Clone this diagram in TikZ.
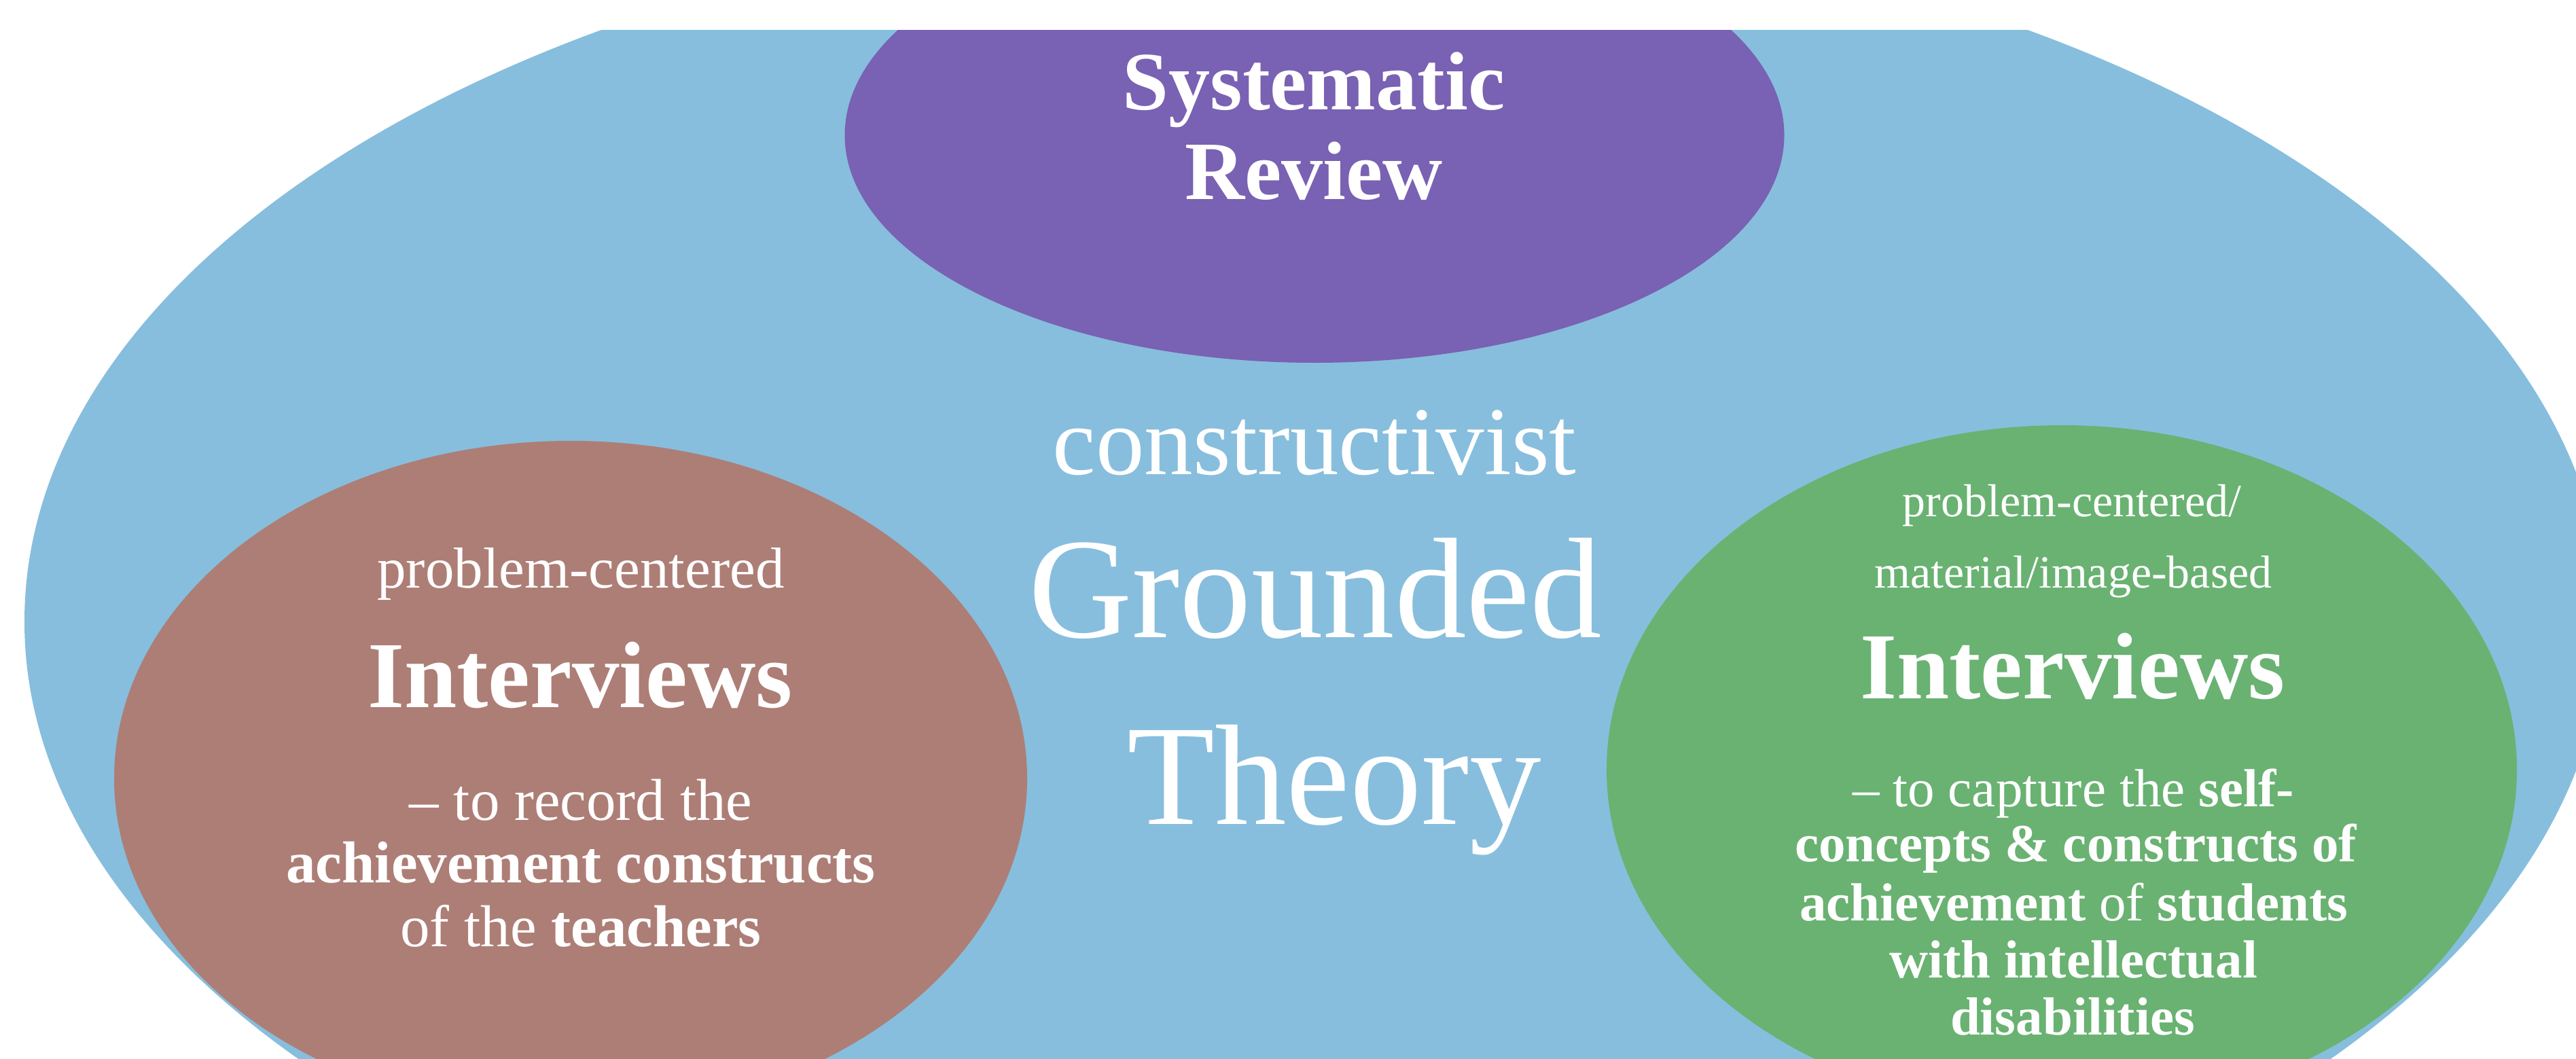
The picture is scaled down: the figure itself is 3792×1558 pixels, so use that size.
\documentclass[tikz,border=0pt]{standalone}
\usepackage{fontspec}
\setmainfont{Liberation Serif}
\usetikzlibrary{shapes.geometric}
\definecolor{bgblue}{HTML}{87BEDD}
\definecolor{revpurple}{HTML}{7961B3}
\definecolor{teachbrown}{HTML}{AD7E76}
\definecolor{studgreen}{HTML}{69B272}
\begin{document}
\begin{tikzpicture}[x=1pt,y=-1pt,
  blob/.style={ellipse, inner sep=0pt, outer sep=0pt, draw=none},
  txt/.style={text=white, inner sep=0pt, anchor=base, align=center},
  fsys/.style={font=\fontsize{122}{132}\selectfont\bfseries},
  fcon/.style={font=\fontsize{143}{150}\selectfont},
  fgt/.style={font=\fontsize{211}{275}\selectfont},
  fsmall/.style={font=\fontsize{85}{93}\selectfont},
  fbig/.style={font=\fontsize{139}{150}\selectfont\bfseries},
  fbody/.style={font=\fontsize{87}{93}\selectfont},
  fgsmall/.style={font=\fontsize{68}{80}\selectfont},
  fgbody/.style={font=\fontsize{79}{84}\selectfont}]
\fill[white] (0,0) rectangle (3792,1558);
\useasboundingbox (0,0) rectangle (3792,1558);
\begin{scope}
\clip (0,44) rectangle (3792,1558);
\node[blob, fill=bgblue, minimum width=3798pt, minimum height=2090pt] (frame) at (1935,915) {};
\node[blob, fill=revpurple, minimum width=1383pt, minimum height=670pt] (review) at (1935,199) {};
\node[blob, fill=teachbrown, minimum width=1344pt, minimum height=994pt] (teachers) at (840,1146) {};
\node[blob, fill=studgreen, minimum width=1340pt, minimum height=1014pt] (students) at (3035,1133) {};
\end{scope}
% Systematic Review
\node[txt, fsys] (sys1) at (1934,161) {Systematic};
\node[txt, fsys] (sys2) at (1934,293) {Review};
% centre
\node[txt, fcon] (cons) at (1935,698) {constructivist};
\node[txt, fgt] (gt1) at (1936,938) {Grounded};
\node[txt, fgt] (gt2) at (1964,1213) {Theory};
% teachers
\node[txt, fsmall] (t1) at (855,865) {problem-centered};
\node[txt, fbig] (t2) at (854,1041) {Interviews};
\node[txt, fbody] (t3) at (855,1207) {– to record the};
\node[txt, fbody] (t4) at (855,1299) {\textbf{achievement constructs}};
\node[txt, fbody] (t5) at (855,1393) {of the \textbf{teachers}};
% students
\node[txt, fgsmall] (s1) at (3050,760) {problem-centered/};
\node[txt, fgsmall] (s2) at (3052,865) {material/image-based};
\node[txt, fbig] (s3) at (3051,1028) {Interviews};
\node[txt, fgbody] (s4) at (3052,1187) {– to capture the \textbf{self-}};
\node[txt, fgbody] (s5) at (3056,1268) {\textbf{concepts \& constructs of}};
\node[txt, fgbody] (s6) at (3053,1355) {\textbf{achievement} of \textbf{students}};
\node[txt, fgbody] (s7) at (3052,1439) {\textbf{with intellectual}};
\node[txt, fgbody] (s8) at (3051,1523) {\textbf{disabilities}};
\end{tikzpicture}
\end{document}
